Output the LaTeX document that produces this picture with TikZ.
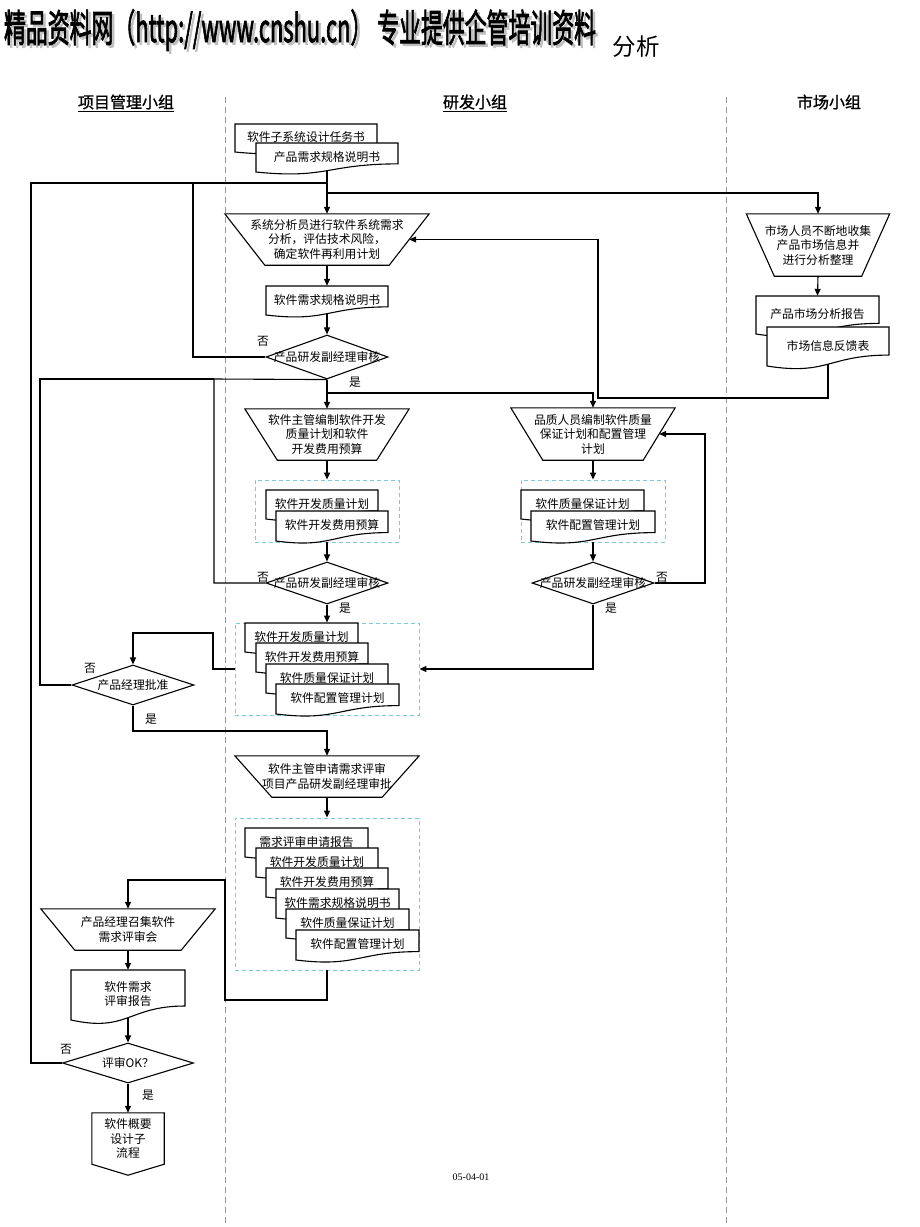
\documentclass[tikz,border=0pt]{standalone}
\usepackage{fontspec}
\usepackage{graphicx}
\setmainfont{Liberation Serif}
\newfontfamily\cjk{Noto Sans CJK SC}
\newfontfamily\cjkbold[FakeBold=1]{Noto Sans CJK SC}
\newfontfamily\cjkheavy[FakeBold=2.5]{Noto Sans CJK SC}
\usetikzlibrary{shapes.geometric, arrows.meta}
\definecolor{lanegray}{RGB}{150,150,150}
\definecolor{grpblue}{RGB}{125,200,220}

\newcommand\docu[6]{%
  \filldraw[docline] (#2,#3) -- ({#2+#4},#3) -- ({#2+#4},{#3+0.72*#5})
    .. controls ({#2+0.5*#4},{#3+0.72*#5}) and ({#2+0.5*#4},{#3+1.25*#5}) .. (#2,{#3+#5}) -- cycle;
  \node[minimum width=#4pt, minimum height={0.954*#5pt}] (#1) at ({#2+0.5*#4},{#3+0.477*#5}) {#6};
}
\newcommand\trapline[2]{%
  \draw[flow] (#1.north west) -- (#1.north east) -- ([xshift=-#2pt]#1.south east)
    -- ([xshift=#2pt]#1.south west) -- cycle;
}

\begin{document}
\begin{tikzpicture}
  [x=1pt, y=-1pt,
   every node/.style={font=\cjk\fontsize{11.8}{14.5}\selectfont, align=center, inner sep=0pt},
   flow/.style={line width=1.1pt},
   arr/.style={flow, -{Triangle[length=7pt, width=6pt]}},
   lane/.style={lanegray, line width=0.8pt, dash pattern=on 6pt off 4pt},
   grp/.style={draw=grpblue, line width=0.9pt, dash pattern=on 4pt off 3pt},
   docline/.style={draw, fill=white, line width=1.1pt},
   dec/.style={diamond, draw, fill=white, line width=1.1pt}]
  \useasboundingbox (0,0) rectangle (920,1227);

  \node[font=\cjkheavy\fontsize{22}{22}\selectfont, text=black!25] (shade) at (302.5,32.5)
    {\scalebox{1}[1.75]{\resizebox{592pt}{!}{精品资料网（http://www.cnshu.cn） 专业提供企管培训资料}}};
  \node[font=\cjkheavy\fontsize{22}{22}\selectfont] (title) at (300,30)
    {\scalebox{1}[1.75]{\resizebox{592pt}{!}{精品资料网（http://www.cnshu.cn） 专业提供企管培训资料}}};
  \node[font=\cjk\fontsize{23.5}{24}\selectfont] (subject) at (636,47) {分析};

  \node[font=\cjkbold\fontsize{16}{16}\selectfont] (pmg) at (126,102) {项目管理小组};
  \node[font=\cjkbold\fontsize{16}{16}\selectfont] (rdg) at (475,102) {研发小组};
  \node[font=\cjkbold\fontsize{16}{16}\selectfont] (mkg) at (829,102) {市场小组};
  \draw[line width=0.8pt] ([yshift=-2pt]pmg.south west) -- ([yshift=-2pt]pmg.south east);
  \draw[line width=0.8pt] ([yshift=-2pt]rdg.south west) -- ([yshift=-2pt]rdg.south east);

  \draw[lane] (225,97) -- (225,1227);
  \draw[lane] (726,97) -- (726,1227);

  \docu{task}{235}{124}{142}{28}{软件子系统设计任务书}
  \docu{prs}{256}{143}{142}{29}{产品需求规格说明书}
  \node[minimum width=204pt, minimum height=51pt] (ana) at (327,239.5)
    {系统分析员进行软件系统需求\\分析，评估技术风险，\\确定软件再利用计划};
  \trapline{ana}{40}
  \docu{srs}{266}{286}{122}{29}{软件需求规格说明书}
  \node[dec, minimum width=122pt, minimum height=44pt, label={center:{产品研发副经理审核}}] (chk1) at (327,357) {};

  \node[minimum width=164pt, minimum height=51pt] (plan) at (327,434.5)
    {软件主管编制软件开发\\质量计划和软件\\开发费用预算};
  \trapline{plan}{32.5}
  \node[minimum width=164pt, minimum height=52pt] (qa) at (593,434)
    {品质人员编制软件质量\\保证计划和配置管理\\计划};
  \trapline{qa}{32}

  \node[grp, minimum width=144pt, minimum height=62pt] (g1) at (327,511) {};
  \docu{dqp1}{266}{490}{112}{29}{软件开发质量计划}
  \docu{dcb1}{276}{511}{112}{30}{软件开发费用预算}
  \node[grp, minimum width=144pt, minimum height=62pt] (g2) at (593,511) {};
  \docu{qap1}{521}{490}{123}{29}{软件质量保证计划}
  \docu{cmp1}{531}{511}{124}{30}{软件配置管理计划}

  \node[dec, minimum width=122pt, minimum height=42pt, label={center:{产品研发副经理审核}}] (chk2) at (327,583) {};
  \node[dec, minimum width=122pt, minimum height=42pt, label={center:{产品研发副经理审核}}] (chk3) at (593,583) {};

  \node[grp, minimum width=184pt, minimum height=92pt] (g3) at (327,669) {};
  \docu{dqp2}{245}{623}{113}{29}{软件开发质量计划}
  \docu{dcb2}{256}{643}{112}{29}{软件开发费用预算}
  \docu{qap2}{266}{664}{122}{29}{软件质量保证计划}
  \docu{cmp2}{276}{684}{123}{30}{软件配置管理计划}

  \node[dec, minimum width=122pt, minimum height=40pt, label={center:{产品经理批准}}] (pm) at (133,685) {};

  \node[minimum width=184pt, minimum height=41pt] (req) at (327,776.5)
    {软件主管申请需求评审\\项目产品研发副经理审批};
  \trapline{req}{37}

  \node[grp, minimum width=184pt, minimum height=152pt] (g4) at (327,894) {};
  \docu{rra}{245}{828}{123}{29}{需求评审申请报告}
  \docu{dqp3}{256}{848}{122}{29}{软件开发质量计划}
  \docu{dcb3}{266}{868}{122}{29}{软件开发费用预算}
  \docu{srs3}{276}{889}{123}{29}{软件需求规格说明书}
  \docu{qap3}{286}{909}{123}{29}{软件质量保证计划}
  \docu{cmp3}{296}{930}{123}{30}{软件配置管理计划}

  \node[minimum width=174pt, minimum height=41pt] (meet) at (128,929.5)
    {产品经理召集软件\\需求评审会};
  \trapline{meet}{34}
  \docu{rep}{71}{970}{114}{50}{软件需求\\评审报告}
  \node[dec, minimum width=131pt, minimum height=40pt, label={center:{评审OK？}}] (ok) at (128,1063) {};
  \node[minimum width=72pt, minimum height=51pt] (next) at (128,1138.5) {软件概要\\设计子\\流程};
  \draw[flow] (next.north west) -- (next.north east) -- (next.south east)
    -- ([yshift=-11pt]next.south) -- (next.south west) -- cycle;

  \node[minimum width=143pt, minimum height=62pt] (mkt) at (818,245)
    {市场人员不断地收集\\产品市场信息并\\进行分析整理};
  \trapline{mkt}{28}
  \docu{mkta}{756}{296}{123}{38}{产品市场分析报告}
  \docu{mktb}{767}{327}{122}{39}{市场信息反馈表}

  \node (no1) at (263,341) {否};
  \node (yes1) at (355,382) {是};
  \node (no2) at (263,577) {否};
  \node (yes2) at (345,608) {是};
  \node (no3) at (662,577) {否};
  \node (yes3) at (611,608) {是};
  \node (no4) at (90,668) {否};
  \node (yes4) at (151,719) {是};
  \node (no5) at (66,1049) {否};
  \node (yes5) at (148,1095) {是};
  \node[font=\fontsize{10}{10}\selectfont] (foot) at (471,1177) {05-04-01};

  \coordinate (jtop) at (327,183);
  \coordinate (jr) at (327,193);
  \coordinate (lp1) at (193,183);
  \coordinate (lp2) at (31,183);
  \coordinate (lp3) at (214,379);
  \coordinate (lp4) at (40,379);
  \coordinate (jq) at (327,393);
  \coordinate (lp5) at (705,583);
  \coordinate (lp6) at (213,633);
  \coordinate (jm) at (327,731);
  \coordinate (lp8) at (225,1000);
  \coordinate (lp9) at (225,880);
  \coordinate (rb) at (598,398);

  \draw[arr] (prs.south) -- (ana.north);
  \draw[flow] (chk1.west) -| (lp1) -- (jtop);
  \draw[flow] (ok.west) -| (lp2) -- (jtop);
  \draw[arr] (jr) -| (mkt.north);
  \draw[arr] (mkt.south) -- (mkta.north);
  \draw[arr] (mktb.south) |- (rb) |- ([xshift=-20pt]ana.east);
  \draw[arr] (ana.south) -- (srs.north);
  \draw[arr] (srs.south) -- (chk1.north);
  \draw[arr] (chk1.south) -- (plan.north);
  \draw[arr] (jq) -| (qa.north);
  \draw[flow] (chk2.west) -| (lp3) -- (chk1.south);
  \draw[flow] (pm.west) -| (lp4) -- (lp3);
  \draw[arr] (plan.south) -- (g1.north);
  \draw[arr] (qa.south) -- (g2.north);
  \draw[arr] (g1.south) -- (chk2.north);
  \draw[arr] (g2.south) -- (chk3.north);
  \draw[arr] (chk3.east) -- (lp5) |- ([xshift=-16pt]qa.east);
  \draw[arr] (chk2.south) -- (g3.north);
  \draw[arr] (chk3.south) |- (g3.east);
  \draw[arr] (g3.west) -| (lp6) -| (pm.north);
  \draw[arr] (pm.south) |- (jm) -- (req.north);
  \draw[arr] (req.south) -- (g4.north);
  \draw[arr] (g4.south) |- (lp8) -- (lp9) -| (meet.north);
  \draw[arr] (meet.south) -- (rep.north);
  \draw[arr] (rep.south) -- (ok.north);
  \draw[arr] (ok.south) -- (next.north);
\end{tikzpicture}
\end{document}
